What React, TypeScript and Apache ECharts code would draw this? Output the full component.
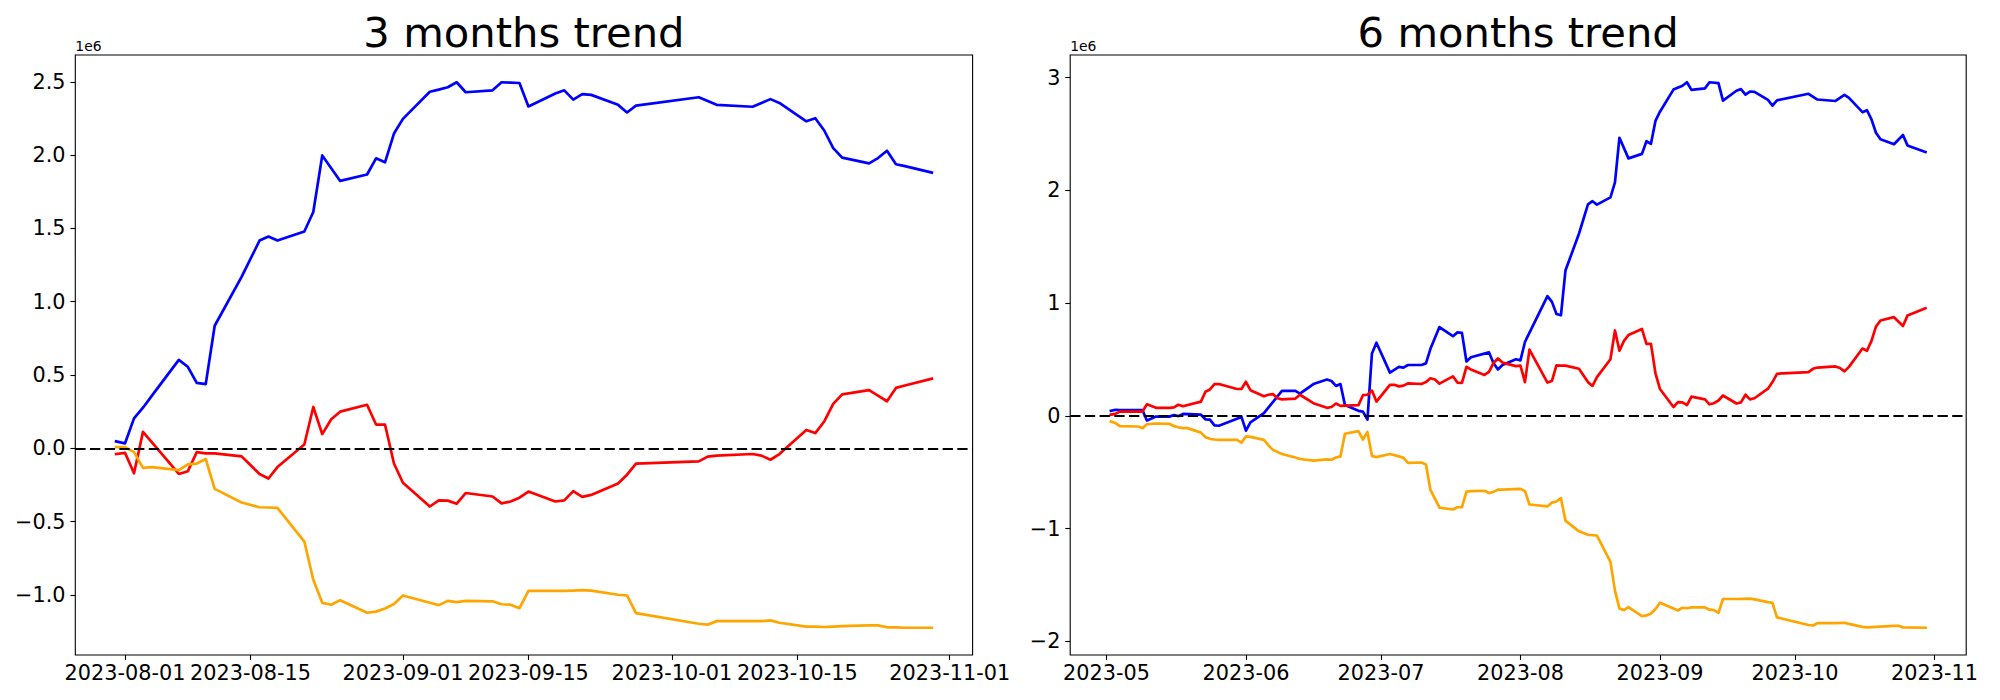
import React, { useEffect, useRef } from 'react';
import * as echarts from 'echarts';

// ---------- data (values in units of 1e6) ----------
const YEAR = '2023';

// 3 months trend: shared trading dates
const dates3 = [
  '07-31', '08-01', '08-02', '08-03', '08-04', '08-07', '08-08', '08-09', '08-10', '08-11',
  '08-14', '08-16', '08-17', '08-18', '08-21', '08-22', '08-23', '08-24', '08-25', '08-28',
  '08-29', '08-30', '08-31', '09-01', '09-04', '09-05', '09-06', '09-07', '09-08', '09-11',
  '09-12', '09-13', '09-14', '09-15', '09-18', '09-19', '09-20', '09-21', '09-22', '09-25',
  '09-26', '09-27', '10-04', '10-05', '10-06', '10-10', '10-11', '10-12', '10-13', '10-16',
  '10-17', '10-18', '10-19', '10-20', '10-23', '10-24', '10-25', '10-26', '10-27', '10-30',
];
const blue3 = [
  0.047, 0.034, 0.204, 0.277, 0.359, 0.603, 0.556, 0.446, 0.438, 0.836,
  1.169, 1.417, 1.445, 1.417, 1.479, 1.612, 1.998, 1.911, 1.824, 1.868,
  1.978, 1.951, 2.147, 2.247, 2.432, 2.447, 2.463, 2.497, 2.429, 2.442,
  2.497, 2.495, 2.492, 2.332, 2.421, 2.442, 2.379, 2.416, 2.411, 2.343,
  2.291, 2.338, 2.395, 2.369, 2.343, 2.330, 2.356, 2.382, 2.356, 2.231,
  2.252, 2.168, 2.048, 1.983, 1.944, 1.980, 2.030, 1.938, 1.925, 1.881,
];
const red3 = [
  -0.039, -0.031, -0.170, 0.112, 0.040, -0.175, -0.157, -0.026, -0.034, -0.034,
  -0.055, -0.175, -0.206, -0.128, 0.026, 0.282, 0.097, 0.198, 0.250, 0.297,
  0.162, 0.162, -0.104, -0.235, -0.397, -0.355, -0.357, -0.378, -0.305, -0.329,
  -0.376, -0.363, -0.337, -0.295, -0.363, -0.355, -0.292, -0.331, -0.318, -0.240,
  -0.180, -0.104, -0.089, -0.057, -0.050, -0.039, -0.050, -0.078, -0.039, 0.125,
  0.104, 0.183, 0.303, 0.368, 0.397, 0.360, 0.321, 0.412, 0.428, 0.475,
];
const orange3 = [
  0.008, 0.008, -0.026, -0.133, -0.128, -0.149, -0.110, -0.104, -0.073, -0.277,
  -0.370, -0.402, -0.404, -0.407, -0.636, -0.897, -1.054, -1.067, -1.036, -1.122,
  -1.114, -1.093, -1.062, -1.004, -1.054, -1.070, -1.041, -1.049, -1.041, -1.044,
  -1.064, -1.067, -1.091, -0.973, -0.973, -0.973, -0.971, -0.968, -0.971, -0.999,
  -1.004, -1.124, -1.197, -1.203, -1.179, -1.179, -1.179, -1.174, -1.190, -1.216,
  -1.216, -1.219, -1.216, -1.213, -1.208, -1.208, -1.221, -1.221, -1.224, -1.224,
];
const xTicks3 = ['2023-08-01', '2023-08-15', '2023-09-01', '2023-09-15', '2023-10-01', '2023-10-15', '2023-11-01'];
const yTicks3 = [-1.0, -0.5, 0.0, 0.5, 1.0, 1.5, 2.0, 2.5];

// 6 months trend: [date, value] pairs per series
const blue6: [string, number][] = [
  ['05-02', 0.044], ['05-03', 0.054], ['05-04', 0.051], ['05-09', 0.051], ['05-10', -0.041],
  ['05-12', -0.007], ['05-15', -0.007], ['05-16', 0.007], ['05-17', -0.003], ['05-18', 0.017],
  ['05-22', 0.010], ['05-23', -0.031], ['05-24', -0.034], ['05-25', -0.085], ['05-26', -0.088],
  ['05-31', -0.010], ['06-01', -0.132], ['06-02', -0.058], ['06-05', 0.024], ['06-09', 0.221],
  ['06-12', 0.221], ['06-13', 0.197], ['06-16', 0.282], ['06-19', 0.322], ['06-20', 0.309],
  ['06-21', 0.265], ['06-22', 0.282], ['06-23', 0.095], ['06-26', 0.044], ['06-27', 0.037],
  ['06-28', -0.034], ['06-29', 0.553], ['06-30', 0.648], ['07-03', 0.383], ['07-05', 0.434],
  ['07-06', 0.427], ['07-07', 0.451], ['07-10', 0.451], ['07-11', 0.465], ['07-12', 0.594],
  ['07-14', 0.787], ['07-17', 0.706], ['07-18', 0.740], ['07-19', 0.736], ['07-20', 0.482],
  ['07-21', 0.519], ['07-25', 0.563], ['07-26', 0.468], ['07-27', 0.411], ['07-28', 0.451],
  ['07-31', 0.502], ['08-01', 0.492], ['08-02', 0.655], ['08-07', 1.062], ['08-08', 1.011],
  ['08-09', 0.903], ['08-10', 0.892], ['08-11', 1.289], ['08-14', 1.615], ['08-16', 1.876],
  ['08-17', 1.904], ['08-18', 1.873], ['08-21', 1.938], ['08-22', 2.070], ['08-23', 2.467],
  ['08-25', 2.284], ['08-28', 2.324], ['08-29', 2.436], ['08-30', 2.413], ['08-31', 2.616],
  ['09-01', 2.698], ['09-04', 2.894], ['09-06', 2.928], ['09-07', 2.959], ['09-08', 2.891],
  ['09-11', 2.905], ['09-12', 2.959], ['09-14', 2.952], ['09-15', 2.796], ['09-18', 2.884],
  ['09-19', 2.898], ['09-20', 2.850], ['09-21', 2.877], ['09-22', 2.874], ['09-25', 2.803],
  ['09-26', 2.752], ['09-27', 2.799], ['10-04', 2.857], ['10-06', 2.806], ['10-10', 2.793],
  ['10-12', 2.847], ['10-13', 2.820], ['10-16', 2.694], ['10-17', 2.711], ['10-18', 2.630],
  ['10-19', 2.511], ['10-20', 2.453], ['10-23', 2.409], ['10-25', 2.491], ['10-26', 2.399],
  ['10-30', 2.341],
];
const red6: [string, number][] = [
  ['05-02', 0.010], ['05-03', 0.017], ['05-04', 0.037], ['05-09', 0.037], ['05-10', 0.102],
  ['05-12', 0.071], ['05-15', 0.071], ['05-16', 0.075], ['05-17', 0.098], ['05-18', 0.085],
  ['05-22', 0.126], ['05-23', 0.214], ['05-24', 0.234], ['05-25', 0.282], ['05-26', 0.282],
  ['05-30', 0.238], ['05-31', 0.238], ['06-01', 0.302], ['06-02', 0.227], ['06-05', 0.173],
  ['06-06', 0.187], ['06-07', 0.193], ['06-08', 0.156], ['06-09', 0.146], ['06-12', 0.153],
  ['06-13', 0.187], ['06-16', 0.112], ['06-19', 0.071], ['06-20', 0.078], ['06-21', 0.109],
  ['06-22', 0.088], ['06-26', 0.095], ['06-27', 0.183], ['06-28', 0.187], ['06-29', 0.224],
  ['06-30', 0.126], ['07-03', 0.275], ['07-04', 0.275], ['07-05', 0.261], ['07-06', 0.268],
  ['07-07', 0.288], ['07-10', 0.282], ['07-11', 0.299], ['07-12', 0.333], ['07-13', 0.322],
  ['07-14', 0.285], ['07-17', 0.350], ['07-18', 0.295], ['07-19', 0.292], ['07-20', 0.434],
  ['07-21', 0.411], ['07-24', 0.363], ['07-25', 0.390], ['07-26', 0.468], ['07-27', 0.509],
  ['07-28', 0.472], ['07-31', 0.441], ['08-01', 0.445], ['08-02', 0.299], ['08-03', 0.587],
  ['08-07', 0.295], ['08-08', 0.309], ['08-09', 0.448], ['08-10', 0.445], ['08-11', 0.445],
  ['08-14', 0.417], ['08-16', 0.299], ['08-17', 0.265], ['08-18', 0.343], ['08-21', 0.502],
  ['08-22', 0.757], ['08-23', 0.577], ['08-24', 0.665], ['08-25', 0.716], ['08-28', 0.770],
  ['08-29', 0.638], ['08-30', 0.638], ['08-31', 0.377], ['09-01', 0.238], ['09-04', 0.078],
  ['09-05', 0.122], ['09-06', 0.119], ['09-07', 0.095], ['09-08', 0.170], ['09-11', 0.146],
  ['09-12', 0.102], ['09-13', 0.112], ['09-14', 0.136], ['09-15', 0.180], ['09-18', 0.109],
  ['09-19', 0.119], ['09-20', 0.187], ['09-21', 0.146], ['09-22', 0.156], ['09-25', 0.241],
  ['09-26', 0.299], ['09-27', 0.373], ['10-04', 0.387], ['10-05', 0.417], ['10-06', 0.428],
  ['10-10', 0.438], ['10-11', 0.424], ['10-12', 0.394], ['10-13', 0.434], ['10-16', 0.597],
  ['10-17', 0.577], ['10-18', 0.665], ['10-19', 0.791], ['10-20', 0.845], ['10-23', 0.875],
  ['10-25', 0.797], ['10-26', 0.889], ['10-30', 0.954],
];
const orange6: [string, number][] = [
  ['05-02', -0.051], ['05-03', -0.064], ['05-04', -0.092], ['05-08', -0.095], ['05-09', -0.109],
  ['05-10', -0.075], ['05-12', -0.068], ['05-15', -0.071], ['05-16', -0.092], ['05-17', -0.102],
  ['05-18', -0.109], ['05-19', -0.109], ['05-22', -0.149], ['05-23', -0.190], ['05-24', -0.204],
  ['05-25', -0.210], ['05-26', -0.214], ['05-30', -0.214], ['05-31', -0.238], ['06-01', -0.183],
  ['06-02', -0.187], ['06-05', -0.214], ['06-06', -0.261], ['06-07', -0.302], ['06-09', -0.339],
  ['06-12', -0.370], ['06-13', -0.383], ['06-16', -0.397], ['06-19', -0.387], ['06-20', -0.390],
  ['06-21', -0.370], ['06-22', -0.360], ['06-23', -0.159], ['06-26', -0.136], ['06-27', -0.210],
  ['06-28', -0.143], ['06-29', -0.356], ['06-30', -0.366], ['07-03', -0.339], ['07-05', -0.360],
  ['07-06', -0.373], ['07-07', -0.417], ['07-10', -0.414], ['07-11', -0.431], ['07-12', -0.658],
  ['07-14', -0.814], ['07-17', -0.831], ['07-18', -0.811], ['07-19', -0.811], ['07-20', -0.672],
  ['07-21', -0.668], ['07-24', -0.665], ['07-25', -0.685], ['07-26', -0.675], ['07-27', -0.655],
  ['07-28', -0.655], ['08-01', -0.648], ['08-02', -0.668], ['08-03', -0.787], ['08-07', -0.804],
  ['08-08', -0.770], ['08-09', -0.760], ['08-10', -0.730], ['08-11', -0.930], ['08-14', -1.025],
  ['08-16', -1.055], ['08-17', -1.059], ['08-18', -1.062], ['08-21', -1.296], ['08-22', -1.551],
  ['08-23', -1.710], ['08-24', -1.724], ['08-25', -1.697], ['08-28', -1.778], ['08-29', -1.771],
  ['08-30', -1.754], ['08-31', -1.714], ['09-01', -1.659], ['09-04', -1.710], ['09-05', -1.727],
  ['09-06', -1.703], ['09-07', -1.707], ['09-08', -1.700], ['09-11', -1.700], ['09-12', -1.720],
  ['09-13', -1.724], ['09-14', -1.748], ['09-15', -1.625], ['09-18', -1.625], ['09-21', -1.622],
  ['09-22', -1.629], ['09-25', -1.653], ['09-26', -1.659], ['09-27', -1.788], ['10-04', -1.856],
  ['10-05', -1.860], ['10-06', -1.839], ['10-10', -1.839], ['10-12', -1.836], ['10-13', -1.846],
  ['10-16', -1.873], ['10-17', -1.877], ['10-23', -1.863], ['10-24', -1.863], ['10-25', -1.877],
  ['10-30', -1.880],
];
const xTicks6 = ['2023-05', '2023-06', '2023-07', '2023-08', '2023-09', '2023-10', '2023-11'];
const yTicks6 = [-2, -1, 0, 1, 2, 3];

const titles = ['3 months trend', '6 months trend'];
const colors = ['#0000ff', '#ff0000', '#ffa500'];
const offsetLabel = '1e6';

// ---------- helpers ----------
const FONT = 'DejaVu Sans';
const ts = (s: string) => {
  const p = s.split('-').map(Number);
  return Date.UTC(p[0], (p[1] || 1) - 1, p[2] || 1);
};
const full = (md: string) => ts(`${YEAR}-${md}`);
const minus = (s: string) => s.replace('-', '\u2212');

function padded(lo: number, hi: number) {
  const m = (hi - lo) * 0.05;
  return [lo - m, hi + m];
}

const GRIDS = [
  { left: 75.3, top: 55, width: 897.3, height: 600 },
  { left: 1070.2, top: 55, width: 896, height: 600 },
];

export default function App() {
  const ref = useRef<HTMLDivElement>(null);

  useEffect(() => {
    if (!ref.current) return;
    const chart = echarts.init(ref.current, undefined, { renderer: 'svg' });

    const s3 = [blue3, red3, orange3].map((vals) => dates3.map((d, i) => [full(d), vals[i]]));
    const s6 = [blue6, red6, orange6].map((pairs) => pairs.map(([d, v]) => [full(d), v]));

    const xr = [s3, s6].map((ss) => {
      const xs = ss.flat().map((p) => p[0] as number);
      return padded(Math.min(...xs), Math.max(...xs));
    });
    const yr = [s3, s6].map((ss) => {
      const ys = ss.flat().map((p) => p[1] as number);
      return padded(Math.min(...ys), Math.max(...ys));
    });

    const xTicks = [xTicks3, xTicks6];
    const yTicks = [yTicks3, yTicks6];
    const yFmt = [
      (v: number) => minus(v.toFixed(1)),
      (v: number) => minus(v.toFixed(0)),
    ];

    const tickStyle = { color: '#000', width: 1.1 };
    const labelStyle = { color: '#000', fontSize: 20.8, fontFamily: FONT };

    const xAxis = [0, 1].map((g) => {
      const vals = xTicks[g].map(ts);
      return {
        type: 'value',
        gridIndex: g,
        min: xr[g][0],
        max: xr[g][1],
        axisLine: { show: false, onZero: false },
        axisTick: { show: true, length: 4.9, lineStyle: tickStyle, customValues: vals },
        axisLabel: {
          ...labelStyle,
          margin: 7,
          customValues: vals,
          formatter: (v: number) => {
            const i = vals.findIndex((t) => Math.abs(t - v) < 1000);
            return i >= 0 ? xTicks[g][i] : '';
          },
        },
        splitLine: { show: false },
      };
    });

    const yAxis = [0, 1].map((g) => ({
      type: 'value',
      gridIndex: g,
      min: yr[g][0],
      max: yr[g][1],
      axisLine: { show: false, onZero: false },
      axisTick: { show: true, length: 4.9, lineStyle: tickStyle, customValues: yTicks[g] },
      axisLabel: { ...labelStyle, margin: 9.7, customValues: yTicks[g], formatter: yFmt[g] },
      splitLine: { show: false },
    }));

    const series: any[] = [];
    [s3, s6].forEach((ss, g) => {
      ss.forEach((data, k) => {
        series.push({
          type: 'line',
          xAxisIndex: g,
          yAxisIndex: g,
          data,
          symbol: 'none',
          showSymbol: false,
          silent: true,
          clip: true,
          z: 2,
          lineStyle: { color: colors[k], width: 2.7, join: 'round', cap: 'square' },
          itemStyle: { color: colors[k] },
          ...(k === 2
            ? {
                markLine: {
                  silent: true,
                  symbol: ['none', 'none'],
                  label: { show: false },
                  lineStyle: { color: '#000', type: [10.3, 4.4], width: 2.2 },
                  data: [{ yAxis: 0 }],
                },
              }
            : {}),
        });
      });
    });

    const graphic: any[] = [];
    GRIDS.forEach((g, i) => {
      graphic.push({
        type: 'text',
        x: g.left + g.width / 2,
        y: 32,
        silent: true,
        style: {
          text: titles[i],
          fontSize: 41.7,
          fontFamily: FONT,
          fill: '#000',
          align: 'center',
          verticalAlign: 'middle',
        },
      });
      graphic.push({
        type: 'text',
        x: g.left,
        y: 46,
        silent: true,
        style: {
          text: offsetLabel,
          fontSize: 13.9,
          fontFamily: FONT,
          fill: '#000',
          align: 'left',
          verticalAlign: 'middle',
        },
      });
    });

    chart.setOption({
      animation: false,
      backgroundColor: '#fff',
      grid: GRIDS.map((g) => ({
        ...g,
        show: true,
        borderColor: '#000',
        borderWidth: 1.1,
        backgroundColor: 'transparent',
        containLabel: false,
      })),
      xAxis,
      yAxis,
      series,
      graphic,
    });

    return () => chart.dispose();
  }, []);

  return (
    <div
      ref={ref}
      style={{ position: 'fixed', left: 0, top: 0, width: 2000, height: 700, background: '#fff' }}
    />
  );
}
